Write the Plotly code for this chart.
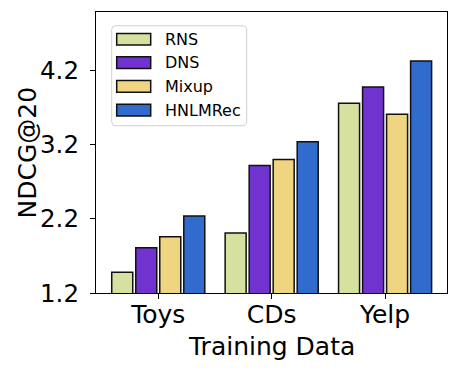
import plotly.graph_objects as go

categories = ["Toys", "CDs", "Yelp"]
series_names = ["RNS", "DNS", "Mixup", "HNLMRec"]
rns = [1.48, 2.01, 3.76]
dns = [1.81, 2.92, 3.98]
mixup = [1.96, 3.00, 3.61]
hnlmrec = [2.24, 3.24, 4.33]
y_ticks = [1.2, 2.2, 3.2, 4.2]

colors = ["#d6e1a0", "#7033cf", "#f0d580", "#316bcd"]
values = [rns, dns, mixup, hnlmrec]

FONT = "DejaVu Sans"
W, H = 459, 373
ML, MR, MT, MB = 96, 12, 12, 80
PW, PH = W - ML - MR, H - MT - MB


def px(xp):
    return (xp - ML) / PW


def py(yp):
    return (H - MB - yp) / PH


fig = go.Figure()
for name, vals, col in zip(series_names, values, colors):
    fig.add_trace(go.Bar(
        x=categories, y=vals, name=name,
        marker=dict(color=col, line=dict(color="#111111", width=1.5)),
        showlegend=False, hoverinfo="skip",
    ))

# custom legend (matplotlib-style)
x0, x1, y0, y1, r = px(111.7), px(246.7), py(25.7), py(125.7), 4
rx, ry = r / PW, r / PH
path = (f"M {x0+rx},{y0} L {x1-rx},{y0} Q {x1},{y0} {x1},{y0-ry} "
        f"L {x1},{y1+ry} Q {x1},{y1} {x1-rx},{y1} L {x0+rx},{y1} "
        f"Q {x0},{y1} {x0},{y1+ry} L {x0},{y0-ry} Q {x0},{y0} {x0+rx},{y0} Z")
fig.add_shape(type="path", path=path, xref="paper", yref="paper",
              fillcolor="rgba(255,255,255,0.8)", line=dict(color="#d0d0d0", width=1))
row_centers = [39.2, 62.6, 86.4, 110.1]
for name, col, cy in zip(series_names, colors, row_centers):
    fig.add_shape(type="rect", xref="paper", yref="paper",
                  x0=px(116.7), x1=px(150.7), y0=py(cy - 5.8), y1=py(cy + 5.8),
                  fillcolor=col, line=dict(color="#111111", width=1.5))
    fig.add_annotation(x=px(163), y=py(cy), xref="paper", yref="paper",
                       text=name, showarrow=False, xanchor="left", yanchor="middle",
                       font=dict(family=FONT, size=16, color="black"))

# axis titles
fig.add_annotation(x=px(27), y=0.5, xref="paper", yref="paper", text="NDCG@20",
                   textangle=-90, showarrow=False, xanchor="center", yanchor="middle",
                   font=dict(family=FONT, size=25, color="black"))
fig.add_annotation(x=0.5, y=py(346), xref="paper", yref="paper", text="Training Data",
                   showarrow=False, xanchor="center", yanchor="middle",
                   font=dict(family=FONT, size=25, color="black"))

fig.update_layout(
    width=W, height=H,
    margin=dict(l=ML, r=MR, t=MT, b=MB, autoexpand=False),
    paper_bgcolor="white", plot_bgcolor="white",
    barmode="group", bargap=0.153, bargroupgap=0.125,
    font=dict(family=FONT, color="black", size=25),
    showlegend=False, hovermode=False,
)
fig.update_xaxes(
    range=[-0.549, 2.546], automargin=False,
    showline=True, linecolor="black", linewidth=1.2, mirror=True,
    ticks="outside", ticklen=5, tickcolor="black", tickwidth=1.2,
    tickfont=dict(family=FONT, size=25, color="black"),
    ticklabelstandoff=-6,
    showgrid=False,
)
fig.update_yaxes(
    range=[1.2, 4.99], automargin=False,
    tickvals=y_ticks, ticktext=[f"{v:.1f}" for v in y_ticks],
    showline=True, linecolor="black", linewidth=1.2, mirror=True,
    ticks="outside", ticklen=5, tickcolor="black", tickwidth=1.2,
    tickfont=dict(family=FONT, size=24.5, color="black"),
    ticklabelstandoff=6,
    showgrid=False, zeroline=False,
)

fig.write_html("out.html", config={"displayModeBar": False},
               post_script="document.body.style.margin='0';document.body.style.overflow='hidden';")
